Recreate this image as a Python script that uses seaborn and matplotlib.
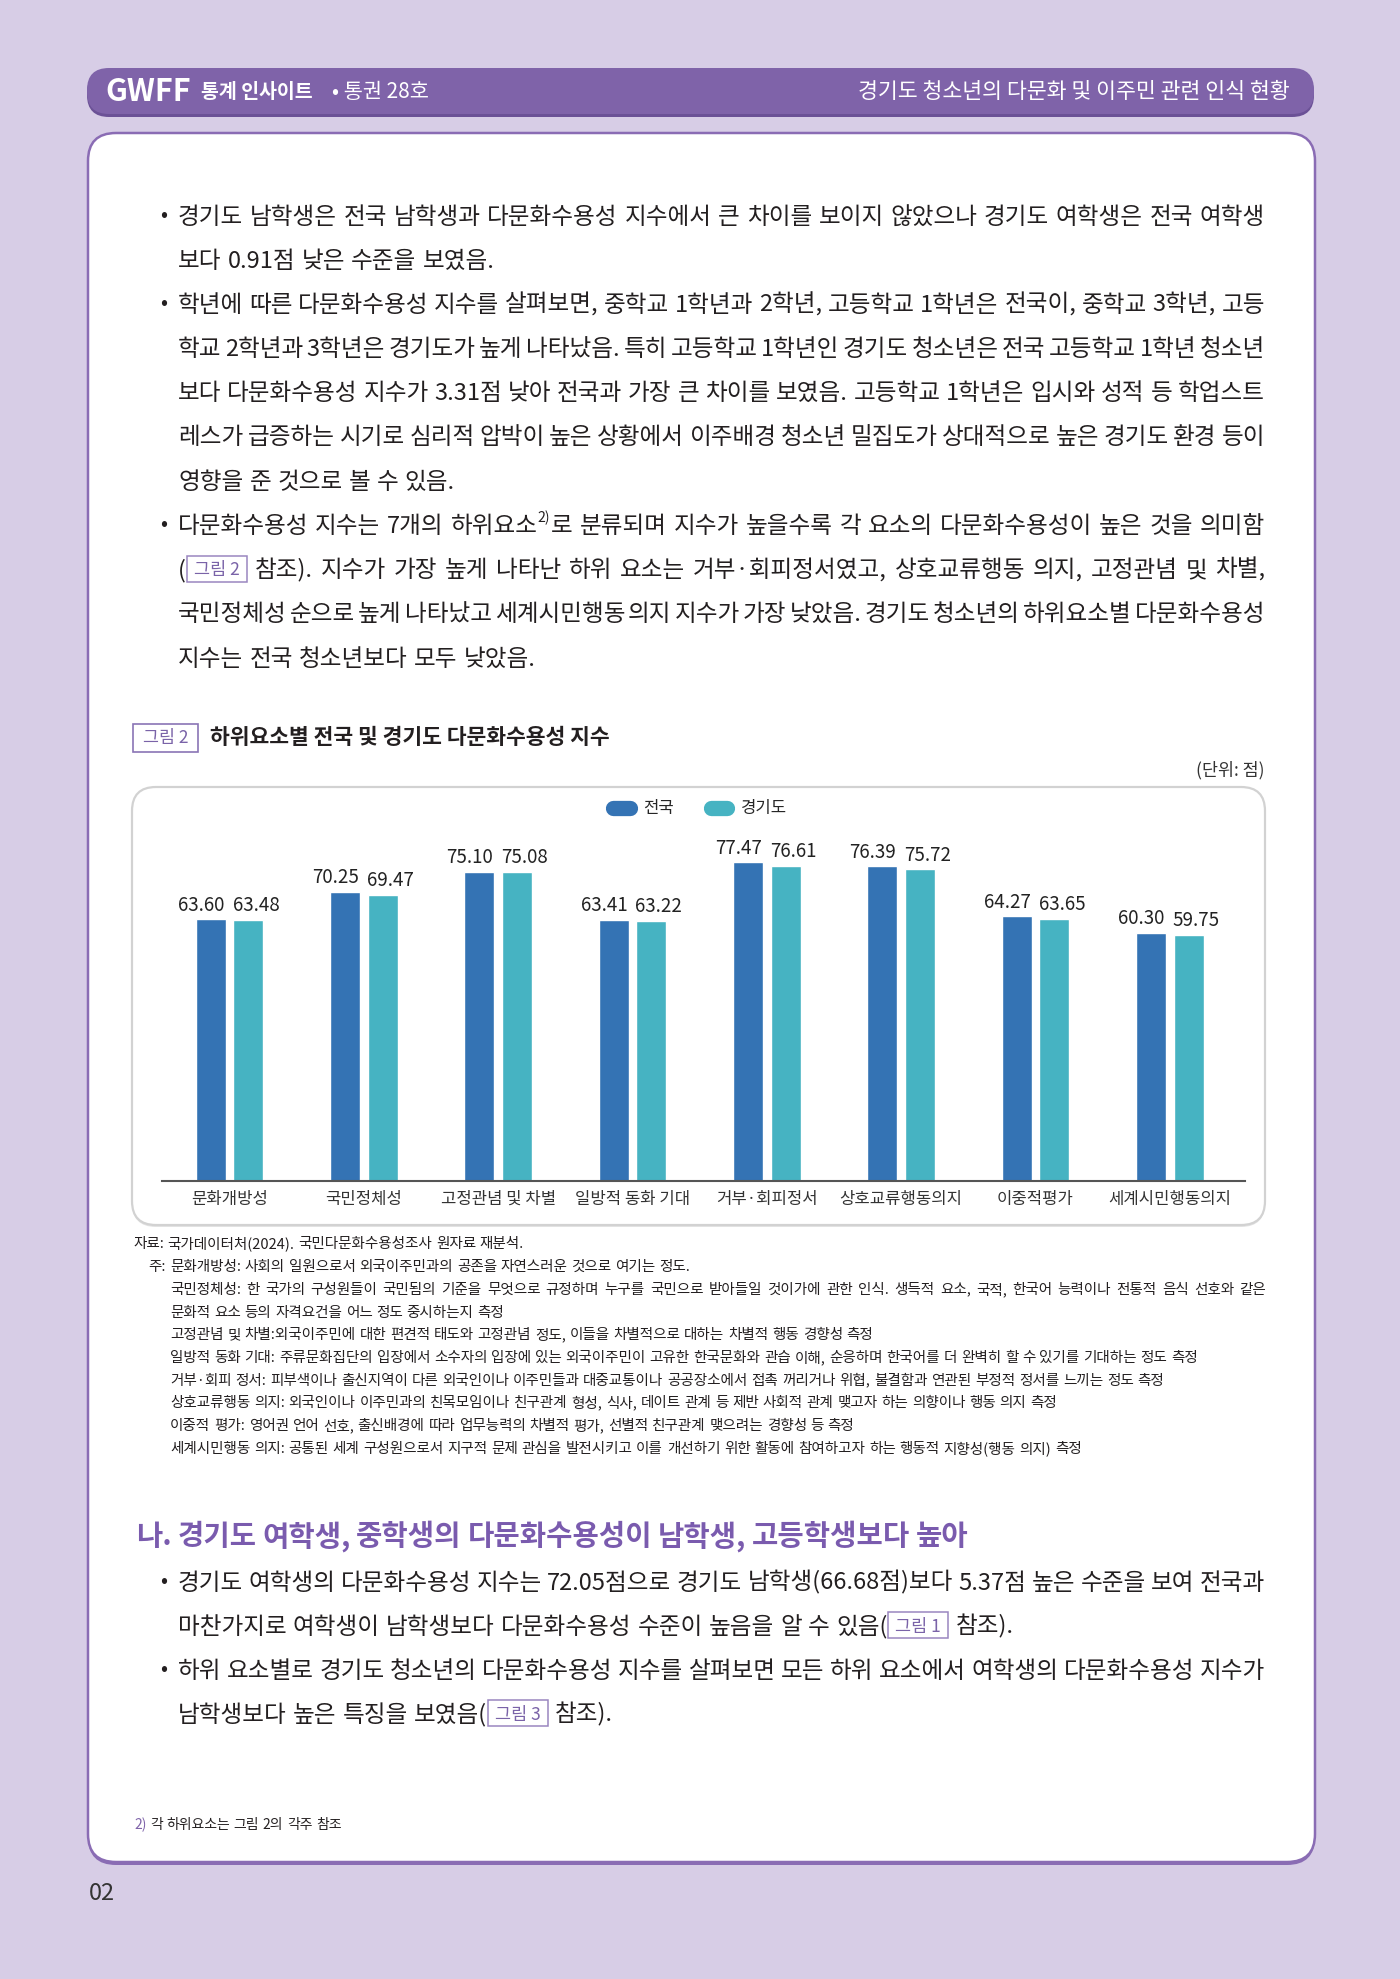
import numpy as np
import pandas as pd
import seaborn as sns
import matplotlib.pyplot as plt
from matplotlib.patches import FancyBboxPatch, Rectangle
from matplotlib.lines import Line2D

# chart data
categories = ["문화개방성", "국민정체성", "고정관념 및 차별", "일방적 동화 기대",
              "거부·회피정서", "상호교류행동의지", "이중적평가", "세계시민행동의지"]
series_names = ["전국", "경기도"]
national = [63.60, 70.25, 75.10, 63.41, 77.47, 76.39, 64.27, 60.30]
gyeonggi = [63.48, 69.47, 75.08, 63.22, 76.61, 75.72, 63.65, 59.75]
bar_colors = ["#3473b4", "#46b3c2"]

PURPLE = "#7f63a9"
TXT = "#231f20"

sns.set_theme(style="white")
plt.rcParams["font.family"] = ["Noto Sans CJK KR", "DejaVu Sans"]

W, H = 1400, 1979
fig = plt.figure(figsize=(W / 100, H / 100), dpi=100)
fig.patch.set_facecolor("#d7cde6")

# page layer in pixel coordinates (y down)
page = fig.add_axes([0, 0, 1, 1])
page.set_xlim(0, W)
page.set_ylim(H, 0)
page.axis("off")
renderer = fig.canvas.get_renderer()


def rbox(x0, y0, x1, y1, r, **kw):
    p = FancyBboxPatch((x0 + r, y0 + r), (x1 - x0) - 2 * r, (y1 - y0) - 2 * r,
                       boxstyle=f"round,pad={r}", **kw)
    page.add_patch(p)


def tokenize(segs):
    words = [[]]
    for text, style in segs:
        if style in ("box", "sup"):
            words[-1].append((text, style))
            continue
        for i, piece in enumerate(text.split(" ")):
            if i > 0:
                words.append([])
            if piece:
                words[-1].append((piece, style))
    return [w for w in words if w]


def write_line(x, yc, segs, size, width=None, color=TXT, weight="normal", space=0.26):
    if isinstance(segs, str):
        segs = [(segs, "n")]
    em = size * 100 / 72
    base = yc + 0.36 * em
    words = []
    for word in tokenize(segs):
        items = []
        for text, style in word:
            if style == "box":
                t = page.text(0, base - 0.08 * em, text, fontsize=size * 0.74, color="#7a63a8", va="baseline")
                w = t.get_window_extent(renderer).width + 16
            elif style == "sup":
                t = page.text(0, base - 0.45 * em, text, fontsize=size * 0.6, color=color, va="baseline")
                w = t.get_window_extent(renderer).width + 1
            else:
                c = PURPLE if style == "p" else color
                t = page.text(0, base, text, fontsize=size, color=c, weight=weight, va="baseline")
                w = t.get_window_extent(renderer).width
            items.append((t, style, w))
        words.append(items)
    widths = [sum(i[2] for i in items) for items in words]
    gap = space * em
    if width is not None and len(words) > 1:
        gap = max((width - sum(widths)) / (len(words) - 1), 2.5)
    cx = x
    for items in words:
        for t, style, w in items:
            if style == "box":
                t.set_x(cx + 8)
                page.add_patch(Rectangle((cx + 1, yc - 0.55 * em), w - 2, 1.1 * em,
                                         fill=False, edgecolor="#9a86c0", lw=1.1))
            else:
                t.set_x(cx)
            cx += w
        cx += gap


# header bar
rbox(87, 71, 1314, 117, 22, facecolor="#6b5196", edgecolor="none")
rbox(87, 68, 1314, 114, 22, facecolor=PURPLE, edgecolor="none")
page.text(105, 92, "GWFF", fontsize=22, weight="heavy", color="white", va="center")
page.text(201, 92, "통계 인사이트", fontsize=14, weight="bold", color="white", va="center")
page.text(332, 92, "• 통권 28호", fontsize=15, color="white", va="center")
page.text(1290, 92, "경기도 청소년의 다문화 및 이주민 관련 인식 현황", fontsize=15.6,
          color="white", va="center", ha="right")

# white page panel
rbox(88, 136, 1315, 1865, 28, facecolor="#8a6cb4", edgecolor="none")
rbox(88, 133, 1315, 1862, 28, facecolor="white", edgecolor="#8a6cb4", lw=1.8)

# body text
BODY = 17
TX, TW = 178, 1087
body = [
    ("경기도 남학생은 전국 남학생과 다문화수용성 지수에서 큰 차이를 보이지 않았으나 경기도 여학생은 전국 여학생", True, True),
    ("보다 0.91점 낮은 수준을 보였음.", False, False),
    ("학년에 따른 다문화수용성 지수를 살펴보면, 중학교 1학년과 2학년, 고등학교 1학년은 전국이, 중학교 3학년, 고등", True, True),
    ("학교 2학년과 3학년은 경기도가 높게 나타났음. 특히 고등학교 1학년인 경기도 청소년은 전국 고등학교 1학년 청소년", False, True),
    ("보다 다문화수용성 지수가 3.31점 낮아 전국과 가장 큰 차이를 보였음. 고등학교 1학년은 입시와 성적 등 학업스트", False, True),
    ("레스가 급증하는 시기로 심리적 압박이 높은 상황에서 이주배경 청소년 밀집도가 상대적으로 높은 경기도 환경 등이", False, True),
    ("영향을 준 것으로 볼 수 있음.", False, False),
    ([("다문화수용성 지수는 7개의 하위요소", "n"), ("2)", "sup"),
      ("로 분류되며 지수가 높을수록 각 요소의 다문화수용성이 높은 것을 의미함", "n")], True, True),
    ([("(", "n"), ("그림 2", "box"),
      (" 참조). 지수가 가장 높게 나타난 하위 요소는 거부·회피정서였고, 상호교류행동 의지, 고정관념 및 차별,", "n")], False, True),
    ("국민정체성 순으로 높게 나타났고 세계시민행동 의지 지수가 가장 낮았음. 경기도 청소년의 하위요소별 다문화수용성", False, True),
    ("지수는 전국 청소년보다 모두 낮았음.", False, False),
]
for k, (segs, bullet, just) in enumerate(body):
    yc = 215 + 44.2 * k
    if bullet:
        page.text(160, yc, "•", fontsize=15, color=TXT, va="center")
    write_line(TX, yc, segs, BODY, TW if just else None)

# figure title
page.add_patch(Rectangle((133, 724), 65, 28, fill=False, edgecolor="#8a74b5", lw=1.2))
page.text(165.5, 738, "그림 2", fontsize=12.5, color="#7a63a8", ha="center", va="center")
page.text(210, 738, "하위요소별 전국 및 경기도 다문화수용성 지수", fontsize=15.5,
          weight="bold", color=TXT, va="center")
page.text(1265, 770, "(단위: 점)", fontsize=12.5, color="#333333", ha="right", va="center")

# chart panel
rbox(132, 789, 1265, 1227, 24, facecolor="#e4e4e4", edgecolor="none")
rbox(132, 787, 1265, 1225, 24, facecolor="white", edgecolor="#d2d2d2", lw=1.6)

# bar chart
df = pd.DataFrame({
    "category": categories * 2,
    "group": [series_names[0]] * len(categories) + [series_names[1]] * len(categories),
    "value": national + gyeonggi,
})
ax = fig.add_axes([162 / W, 1 - 1181 / H, 1083 / W, 350 / H])
ax.patch.set_alpha(0)
sns.barplot(data=df, x="category", y="value", hue="group", hue_order=series_names,
            palette=bar_colors, saturation=1, width=0.558, gap=0.2, ax=ax, legend=False)
for c, dx in zip(ax.containers, [-7, 5.5]):
    for ann in ax.bar_label(c, fmt="%.2f", padding=3, fontsize=13.5, color="#222222"):
        ann.xyann = (dx, 2.5)
ax.set_xlim(-0.503, 7.56)
ax.set_ylim(0, 85)
ax.set_xlabel("")
ax.set_ylabel("")
ax.set_yticks([])
for s in ["left", "top", "right"]:
    ax.spines[s].set_visible(False)
ax.spines["bottom"].set_color("#555555")
ax.spines["bottom"].set_linewidth(1.5)
ax.tick_params(axis="x", length=0, pad=7, labelsize=12, labelcolor="#333333")

handles = [Line2D([0, 1], [0, 0], color=col, lw=11, solid_capstyle="round") for col in bar_colors]
ax.legend(handles, series_names, loc="center", bbox_to_anchor=(0.5, 1 - 809 / H),
          bbox_transform=fig.transFigure, ncol=2, frameon=False, fontsize=12,
          handlelength=1.0, handletextpad=0.8, columnspacing=2.2)

# notes
NS = 10.5
write_line(133, 1243, "자료: 국가데이터처(2024). 국민다문화수용성조사 원자료 재분석.", NS)
page.text(148, 1266 + 0.36 * NS * 100 / 72, "주:", fontsize=NS, color=TXT, va="baseline")
notes = [
    ("문화개방성: 사회의 일원으로서 외국이주민과의 공존을 자연스러운 것으로 여기는 정도.", False),
    ("국민정체성: 한 국가의 구성원들이 국민됨의 기준을 무엇으로 규정하며 누구를 국민으로 받아들일 것이가에 관한 인식. 생득적 요소, 국적, 한국어 능력이나 전통적 음식 선호와 같은", True),
    ("문화적 요소 등의 자격요건을 어느 정도 중시하는지 측정", False),
    ("고정관념 및 차별:외국이주민에 대한 편견적 태도와 고정관념 정도, 이들을 차별적으로 대하는 차별적 행동 경향성 측정", False),
    ("일방적 동화 기대: 주류문화집단의 입장에서 소수자의 입장에 있는 외국이주민이 고유한 한국문화와 관습 이해, 순응하며 한국어를 더 완벽히 할 수 있기를 기대하는 정도 측정", False),
    ("거부·회피 정서: 피부색이나 출신지역이 다른 외국인이나 이주민들과 대중교통이나 공공장소에서 접촉 꺼리거나 위협, 불결함과 연관된 부정적 정서를 느끼는 정도 측정", False),
    ("상호교류행동 의지: 외국인이나 이주민과의 친목모임이나 친구관계 형성, 식사, 데이트 관계 등 제반 사회적 관계 맺고자 하는 의향이나 행동 의지 측정", False),
    ("이중적 평가: 영어권 언어 선호, 출신배경에 따라 업무능력의 차별적 평가, 선별적 친구관계 맺으려는 경향성 등 측정", False),
    ("세계시민행동 의지: 공통된 세계 구성원으로서 지구적 문제 관심을 발전시키고 이를 개선하기 위한 활동에 참여하고자 하는 행동적 지향성(행동 의지) 측정", False),
]
for k, (line, just) in enumerate(notes):
    write_line(170, 1266 + 22.7 * k, line, NS, 1096 if just else None)

# section 2
write_line(136, 1535, "나. 경기도 여학생, 중학생의 다문화수용성이 남학생, 고등학생보다 높아", 20.6,
           color="#7a5bae", weight="bold", space=0.2)
sec2 = [
    ("경기도 여학생의 다문화수용성 지수는 72.05점으로 경기도 남학생(66.68점)보다 5.37점 높은 수준을 보여 전국과", True, True),
    ([("마찬가지로 여학생이 남학생보다 다문화수용성 수준이 높음을 알 수 있음(", "n"), ("그림 1", "box"), (" 참조).", "n")], False, False),
    ("하위 요소별로 경기도 청소년의 다문화수용성 지수를 살펴보면 모든 하위 요소에서 여학생의 다문화수용성 지수가", True, True),
    ([("남학생보다 높은 특징을 보였음(", "n"), ("그림 3", "box"), (" 참조).", "n")], False, False),
]
for k, (segs, bullet, just) in enumerate(sec2):
    yc = 1581 + 44 * k
    if bullet:
        page.text(160, yc, "•", fontsize=15, color=TXT, va="center")
    write_line(TX, yc, segs, BODY, TW if just else None)

# footnote and page number
write_line(134, 1824, [("2)", "p"), (" 각 하위요소는 그림 2의 각주 참조", "n")], 10)
page.text(89, 1894, "02", fontsize=17, color="#333333", va="center")

fig.savefig("out.png", dpi=100, facecolor=fig.get_facecolor())
